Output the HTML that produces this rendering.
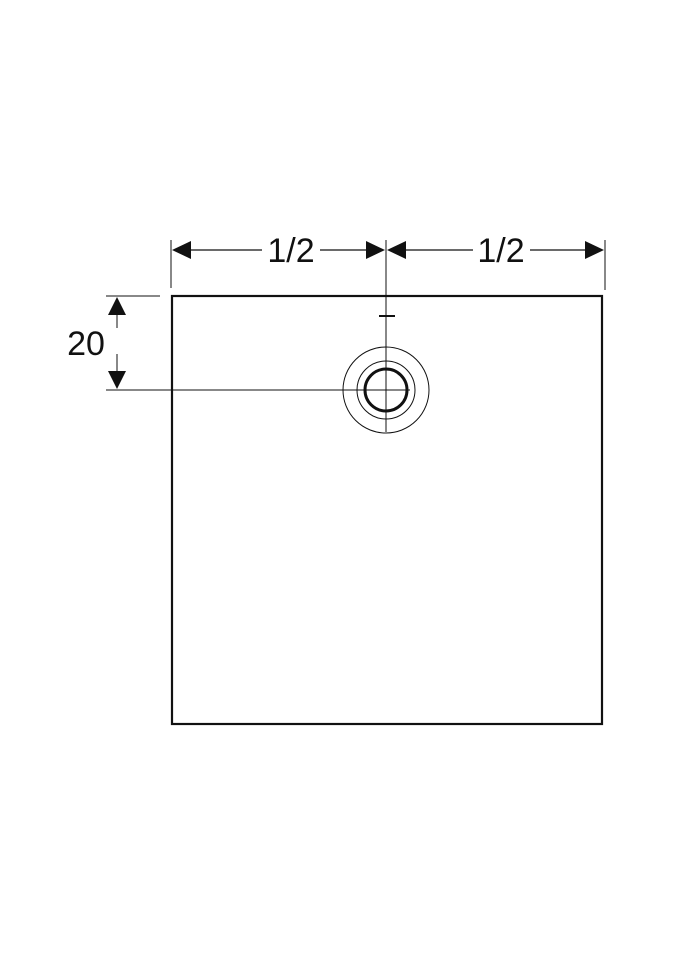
<!DOCTYPE html>
<html><head><meta charset="utf-8"><style>html,body{margin:0;padding:0;background:#fff}svg{display:block}</style></head>
<body>
<svg width="675" height="960" viewBox="0 0 675 960" xmlns="http://www.w3.org/2000/svg">
<g stroke="#111" fill="none">
<rect x="172" y="296" width="430" height="428" stroke-width="2.2"/>
<line x1="171" y1="240" x2="171" y2="288" stroke-width="1"/>
<line x1="605" y1="240" x2="605" y2="290" stroke-width="1"/>
<line x1="386" y1="240" x2="386" y2="432" stroke-width="1"/>
<line x1="190" y1="250" x2="262" y2="250" stroke-width="1.2"/>
<line x1="320" y1="250" x2="368" y2="250" stroke-width="1.2"/>
<line x1="404" y1="250" x2="473" y2="250" stroke-width="1.2"/>
<line x1="530" y1="250" x2="588" y2="250" stroke-width="1.2"/>
<line x1="106" y1="296" x2="160" y2="296" stroke-width="1"/>
<line x1="106" y1="390" x2="410" y2="390" stroke-width="1"/>
<line x1="117" y1="312" x2="117" y2="328" stroke-width="1"/>
<line x1="117" y1="354" x2="117" y2="372" stroke-width="1"/>
<line x1="379" y1="316" x2="395" y2="316" stroke-width="2"/>
<circle cx="386" cy="390" r="43" stroke-width="1"/>
<circle cx="386" cy="390" r="29" stroke-width="1"/>
<circle cx="386" cy="390" r="21" stroke-width="3"/>
</g>
<g fill="#111">
<polygon points="172,250 191,241 191,259"/>
<polygon points="385,250 366,241 366,259"/>
<polygon points="387,250 406,241 406,259"/>
<polygon points="604,250 585,241 585,259"/>
<polygon points="117,297 108,315 126,315"/>
<polygon points="117,389 108,371 126,371"/>
</g>
<g font-family="Liberation Sans, sans-serif" font-size="34" fill="#111">
<text x="291" y="262" text-anchor="middle">1/2</text>
<text x="501" y="262" text-anchor="middle">1/2</text>
<text x="86" y="355" text-anchor="middle">20</text>
</g>
</svg>
</body></html>
